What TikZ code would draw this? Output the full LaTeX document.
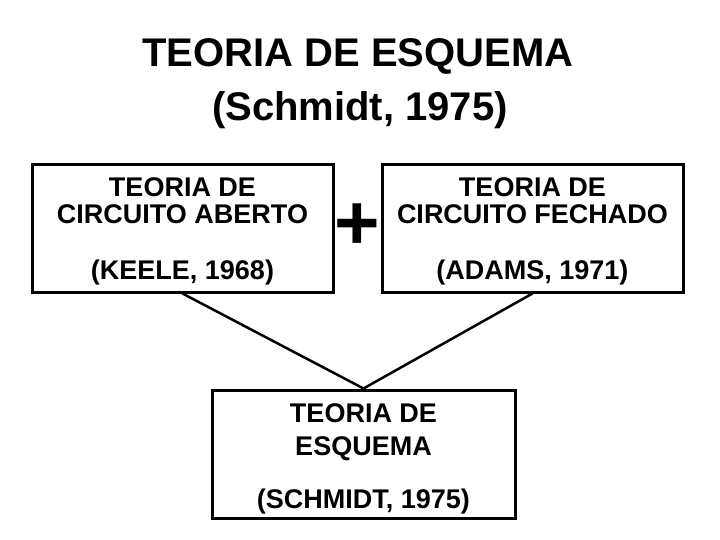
\documentclass[tikz,border=0pt]{standalone}
\usepackage{fontspec}
\setmainfont{Liberation Sans}
\begin{document}
\begin{tikzpicture}[x=1pt,y=-1pt,
  box/.style={draw=black, line width=3pt, minimum width=301pt, minimum height=127pt,
    inner sep=0pt, align=center, font=\bfseries\fontsize{27}{27}\selectfont},
  conn/.style={draw=black, line width=2.5pt},
  title/.style={font=\bfseries\fontsize{40}{48}\selectfont, anchor=base, inner sep=0pt},
  plussign/.style={font=\bfseries\fontsize{78}{80}\selectfont, inner sep=0pt}]
\useasboundingbox[fill=white] (0,0) rectangle (720,540);
\node[title] (t1) at (358,67) {TEORIA DE ESQUEMA};
\node[title] (t2) at (360,121) {(Schmidt, 1975)};
\node[box] (open) at (182.5,228.5) {\rule{0pt}{24pt}TEORIA DE\\CIRCUITO ABERTO\\[29pt](KEELE, 1968)};
\node[box] (closed) at (532.5,228.5) {\rule{0pt}{24pt}TEORIA DE\\CIRCUITO FECHADO\\[29pt](ADAMS, 1971)};
\node[box, minimum width=303pt, minimum height=128pt, font=\bfseries\fontsize{27}{33}\selectfont] (schema) at (363.5,454) {\rule{0pt}{27.7pt}TEORIA DE\\ESQUEMA\\[20pt](SCHMIDT, 1975)};
\node[plussign] (plus) at (357,227) {+};
\draw[conn] (open.south) -- (schema.north);
\draw[conn] (closed.south) -- (schema.north);
\end{tikzpicture}
\end{document}
